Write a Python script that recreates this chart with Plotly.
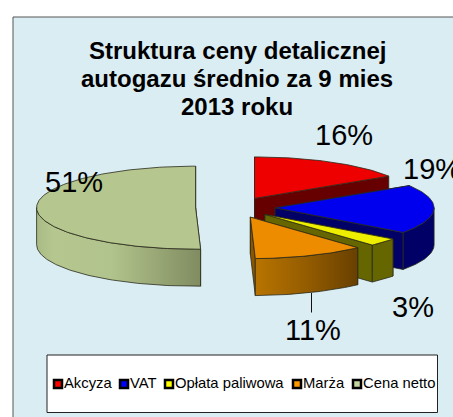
import math
import plotly.graph_objects as go

# ---- data ----
categories = ["Akcyza", "VAT", "Opłata paliwowa", "Marża", "Cena netto"]
values = [16.0, 19.1, 3.1, 11.3, 50.5]
value_labels = ["16%", "19%", "3%", "11%", "51%"]
title_lines = ["Struktura ceny detalicznej", "autogazu średnio za 9 mies", "2013 roku"]

# ---- styles ----
top_colors = ["#EE0000", "#0000EE", "#EEEE00", "#EE8C00", "#B5C78F"]
legend_colors = ["#FF0000", "#0000FF", "#FFFF00", "#FF9900", "#C4D6A0"]
cut_colors = ["#660000", "#000066", "#666600", "#8A5600", "#808C60"]
wall_scales = [
    [[0, "#660000"], [1, "#660000"]],
    [[0, "#000066"], [1, "#000066"]],
    [[0, "#666600"], [1, "#666600"]],
    [[0, "#B87400"], [0.5, "#945C00"], [1, "#684000"]],
    [[0, "#A9BA84"], [0.1, "#B5C78F"], [0.45, "#B2C48D"], [1, "#808C60"]],
]
edge = "#2A2A1A"

# ---- projection of the pie ----
CX, CY = 235.35, 207.5
RX, RY = 159.0, 41.5
DEPTH = 37.0
EXPLODE = 0.25
START = 90.0


def pt(cx, cy, deg, dz=0.0):
    r = math.radians(deg)
    return cx + RX * math.cos(r), cy - RY * math.sin(r) + dz


def arc(cx, cy, a0, a1, dz=0.0):
    n = max(2, int(abs(a1 - a0)) + 1)
    return [pt(cx, cy, a0 + (a1 - a0) * i / (n - 1), dz) for i in range(n)]


def poly(fig, pts, color=None, scale=None):
    xs = [p[0] for p in pts] + [pts[0][0]]
    ys = [p[1] for p in pts] + [pts[0][1]]
    kw = dict(fillcolor=color) if scale is None else dict(
        fillgradient=dict(type="horizontal", colorscale=scale))
    fig.add_trace(go.Scatter(x=xs, y=ys, mode="lines", fill="toself",
                             line=dict(color=edge, width=0.8),
                             hoverinfo="skip", showlegend=False, **kw))


fig = go.Figure()

total = sum(values)
angle = START
for i, v in enumerate(values):
    a0 = angle
    a1 = angle - 360.0 * v / total
    angle = a1
    mid = math.radians((a0 + a1) / 2)
    cx = CX + EXPLODE * RX * math.cos(mid)
    cy = CY - EXPLODE * RY * math.sin(mid)

    # cut faces
    for a in (a0, a1):
        e = pt(cx, cy, a)
        poly(fig, [(cx, cy), e, (e[0], e[1] + DEPTH), (cx, cy + DEPTH)], color=cut_colors[i])

    # outer wall, front half only
    lo, hi = max(a1, -180.0), min(a0, 0.0)
    if hi > lo:
        poly(fig, arc(cx, cy, hi, lo) + arc(cx, cy, lo, hi, DEPTH), scale=wall_scales[i])

    # top face
    poly(fig, [(cx, cy)] + arc(cx, cy, a0, a1), color=top_colors[i])

# leader line of the 11% label
fig.add_trace(go.Scatter(x=[311.5, 311.5], y=[293, 312.5], mode="lines",
                         line=dict(color="#111111", width=1),
                         hoverinfo="skip", showlegend=False))

# legend row
legend_marker_x = [58, 124, 169, 297, 357]
fig.add_trace(go.Scatter(
    x=legend_marker_x, y=[384] * 5, mode="markers+text",
    marker=dict(symbol="square", size=8, color=legend_colors,
                line=dict(color="#000000", width=2.5)),
    text=categories, textposition="middle right",
    textfont=dict(family="Liberation Sans", size=14.8, color="#000000"),
    cliponaxis=True, hoverinfo="skip", showlegend=False))

# value labels
label_pos = [(344, 135), (432, 169), (413, 307), (313, 330), (74, 182)]
annotations = [
    dict(x=p[0], y=p[1], text=t, showarrow=False, xref="x", yref="y",
         xanchor="center", yanchor="middle",
         font=dict(family="Liberation Sans", size=29, color="#000000"))
    for t, p in zip(value_labels, label_pos)
]

# title lines
title_y = [50, 78, 106]
annotations += [
    dict(x=237, y=y, text=t, showarrow=False, xref="x", yref="y",
         xanchor="center", yanchor="middle",
         font=dict(family="Liberation Sans", size=24, color="#000000", weight="bold"))
    for t, y in zip(title_lines, title_y)
]

shapes = [
    dict(type="rect", layer="below", x0=13, y0=17, x1=470, y1=430,
         fillcolor="#DAEDF3", line=dict(color="#555555", width=1)),
    dict(type="rect", layer="below", x0=47, y0=355, x1=437.5, y1=412.5,
         fillcolor="#FFFFFF", line=dict(color="#222222", width=1)),
]

fig.update_layout(
    width=453, height=417, margin=dict(l=0, r=0, t=0, b=0),
    paper_bgcolor="#FFFFFF", plot_bgcolor="rgba(0,0,0,0)",
    showlegend=False,
    xaxis=dict(range=[0, 453], visible=False, fixedrange=True),
    yaxis=dict(range=[417, 0], visible=False, fixedrange=True),
    shapes=shapes, annotations=annotations,
)

fig.write_html("out.html", config={"displayModeBar": False},
               post_script="document.body.style.margin='0';document.body.style.overflow='hidden';")
